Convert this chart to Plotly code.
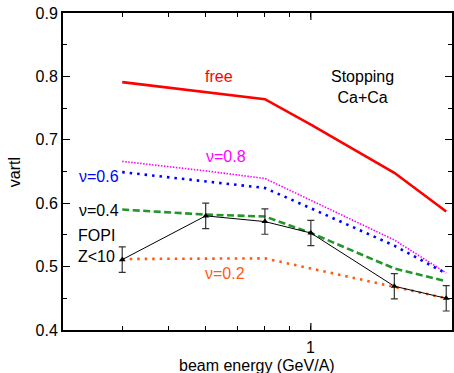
import math
import plotly.graph_objects as go

energy = [0.4, 0.6, 0.8, 1.0, 1.5, 1.93]
free = [0.791, 0.775, 0.764, 0.724, 0.648, 0.587]
nu08 = [0.666, 0.651, 0.639, 0.605, 0.542, 0.490]
nu06 = [0.649, 0.634, 0.624, 0.592, 0.533, 0.489]
nu04 = [0.590, 0.582, 0.579, 0.553, 0.497, 0.477]
nu02 = [0.512, 0.512, 0.513, 0.497, 0.468, 0.450]
fopi = [0.511, 0.580, 0.571, 0.553, 0.469, 0.450]
fopi_err = [0.02, 0.02, 0.02, 0.02, 0.02, 0.02]

x_ticks = [0.4, 0.5, 0.6, 0.7, 0.8, 0.9, 1]
x_major = [1]
x_major_text = ["1"]
y_major = [0.4, 0.5, 0.6, 0.7, 0.8, 0.9]

FONT = "Liberation Sans, Arial, Helvetica, sans-serif"

fig = go.Figure()
fig.add_trace(go.Scatter(x=energy, y=free, mode="lines",
                         line=dict(color="#ff0000", width=2.6)))
fig.add_trace(go.Scatter(x=energy, y=nu08, mode="lines",
                         line=dict(color="#ff00ff", width=1.6, dash="1.5px,1.5px")))
fig.add_trace(go.Scatter(x=energy, y=nu06, mode="lines",
                         line=dict(color="#0000ff", width=2.6, dash="2.5px,5px")))
fig.add_trace(go.Scatter(x=energy, y=nu04, mode="lines",
                         line=dict(color="#22962a", width=2.6, dash="7px,3.5px")))
fig.add_trace(go.Scatter(x=energy, y=nu02, mode="lines",
                         line=dict(color="#ff5a10", width=2.6, dash="2.5px,5px")))
fig.add_trace(go.Scatter(x=energy, y=fopi, mode="lines+markers",
                         line=dict(color="#000000", width=1),
                         marker=dict(symbol="triangle-up", size=6, color="#000000"),
                         error_y=dict(type="data", array=fopi_err, visible=True,
                                      color="#333333", thickness=1.2, width=3.5)))

L, R, T, B = 63, 0, 13, 43
W, H = 454, 373
pw, ph = W - L - R, H - T - B

def px(x):
    return (x - L) / pw

def py(y):
    return (H - B - y) / ph

def ann(text, x, y, color, xanchor="center", **kw):
    fig.add_annotation(text=text, x=px(x), y=py(y), xref="paper", yref="paper",
                       xanchor=xanchor, yanchor="middle",
                       showarrow=False, font=dict(color=color, size=16, family=FONT), **kw)

ann("free", 220, 77, "#ff0000")
ann("Stopping<br>Ca+Ca", 364, 87, "#000000")
ann("ν=0.8", 227, 157, "#ff00ff")
ann("ν=0.6", 99, 176, "#0000ff")
ann("ν=0.4", 99, 210, "#000000")
ann("FOPI<br>Z<10", 76.5, 245.5, "#000000", xanchor="left", align="left")
ann("ν=0.2", 226, 273, "#ff5a10")
ann("beam energy (GeV/A)", 258, 365, "#000000")
ann("vartl", 14, 172, "#000000", textangle=-90)

# x major tick labels (placed below the axis) and longer major ticks
for xv, txt in zip(x_major, x_major_text):
    fig.add_annotation(text=txt, x=math.log10(xv), xref="x", y=py(347), yref="paper",
                       xanchor="center", yanchor="middle", showarrow=False,
                       font=dict(color="#000000", size=16, family=FONT))
    fig.add_shape(type="line", xref="x", yref="paper", x0=xv, x1=xv,
                  y0=0, y1=7 / ph, line=dict(color="#000000", width=1.2))
    fig.add_shape(type="line", xref="x", yref="paper", x0=xv, x1=xv,
                  y0=1 - 7 / ph, y1=1, line=dict(color="#000000", width=1.2))

fig.update_layout(
    width=W, height=H,
    margin=dict(l=L, r=R, t=T, b=B),
    paper_bgcolor="white", plot_bgcolor="white",
    showlegend=False,
    font=dict(family=FONT, size=16, color="#000000"),
    xaxis=dict(type="log", range=[math.log10(0.3), math.log10(1.985)],
               tickmode="array", tickvals=x_ticks, showticklabels=False,
               ticks="inside", ticklen=4, tickwidth=1.2, tickcolor="#000000",
               showline=True, linewidth=2, linecolor="#000000", mirror="ticks",
               showgrid=False, zeroline=False),
    yaxis=dict(range=[0.4, 0.9], tickmode="array", tickvals=y_major,
               ticktext=["0.4", "0.5", "0.6", "0.7", "0.8", "0.9"],
               ticks="inside", ticklen=7, tickwidth=1.2, tickcolor="#000000",
               minor=dict(dtick=0.05, tick0=0.4, ticks="inside", ticklen=4,
                          tickwidth=1.2, tickcolor="#000000", showgrid=False),
               showline=True, linewidth=2, linecolor="#000000", mirror="ticks",
               showgrid=False, zeroline=False,
               tickfont=dict(size=16, family=FONT)),
)

fig.write_html("out.html")
